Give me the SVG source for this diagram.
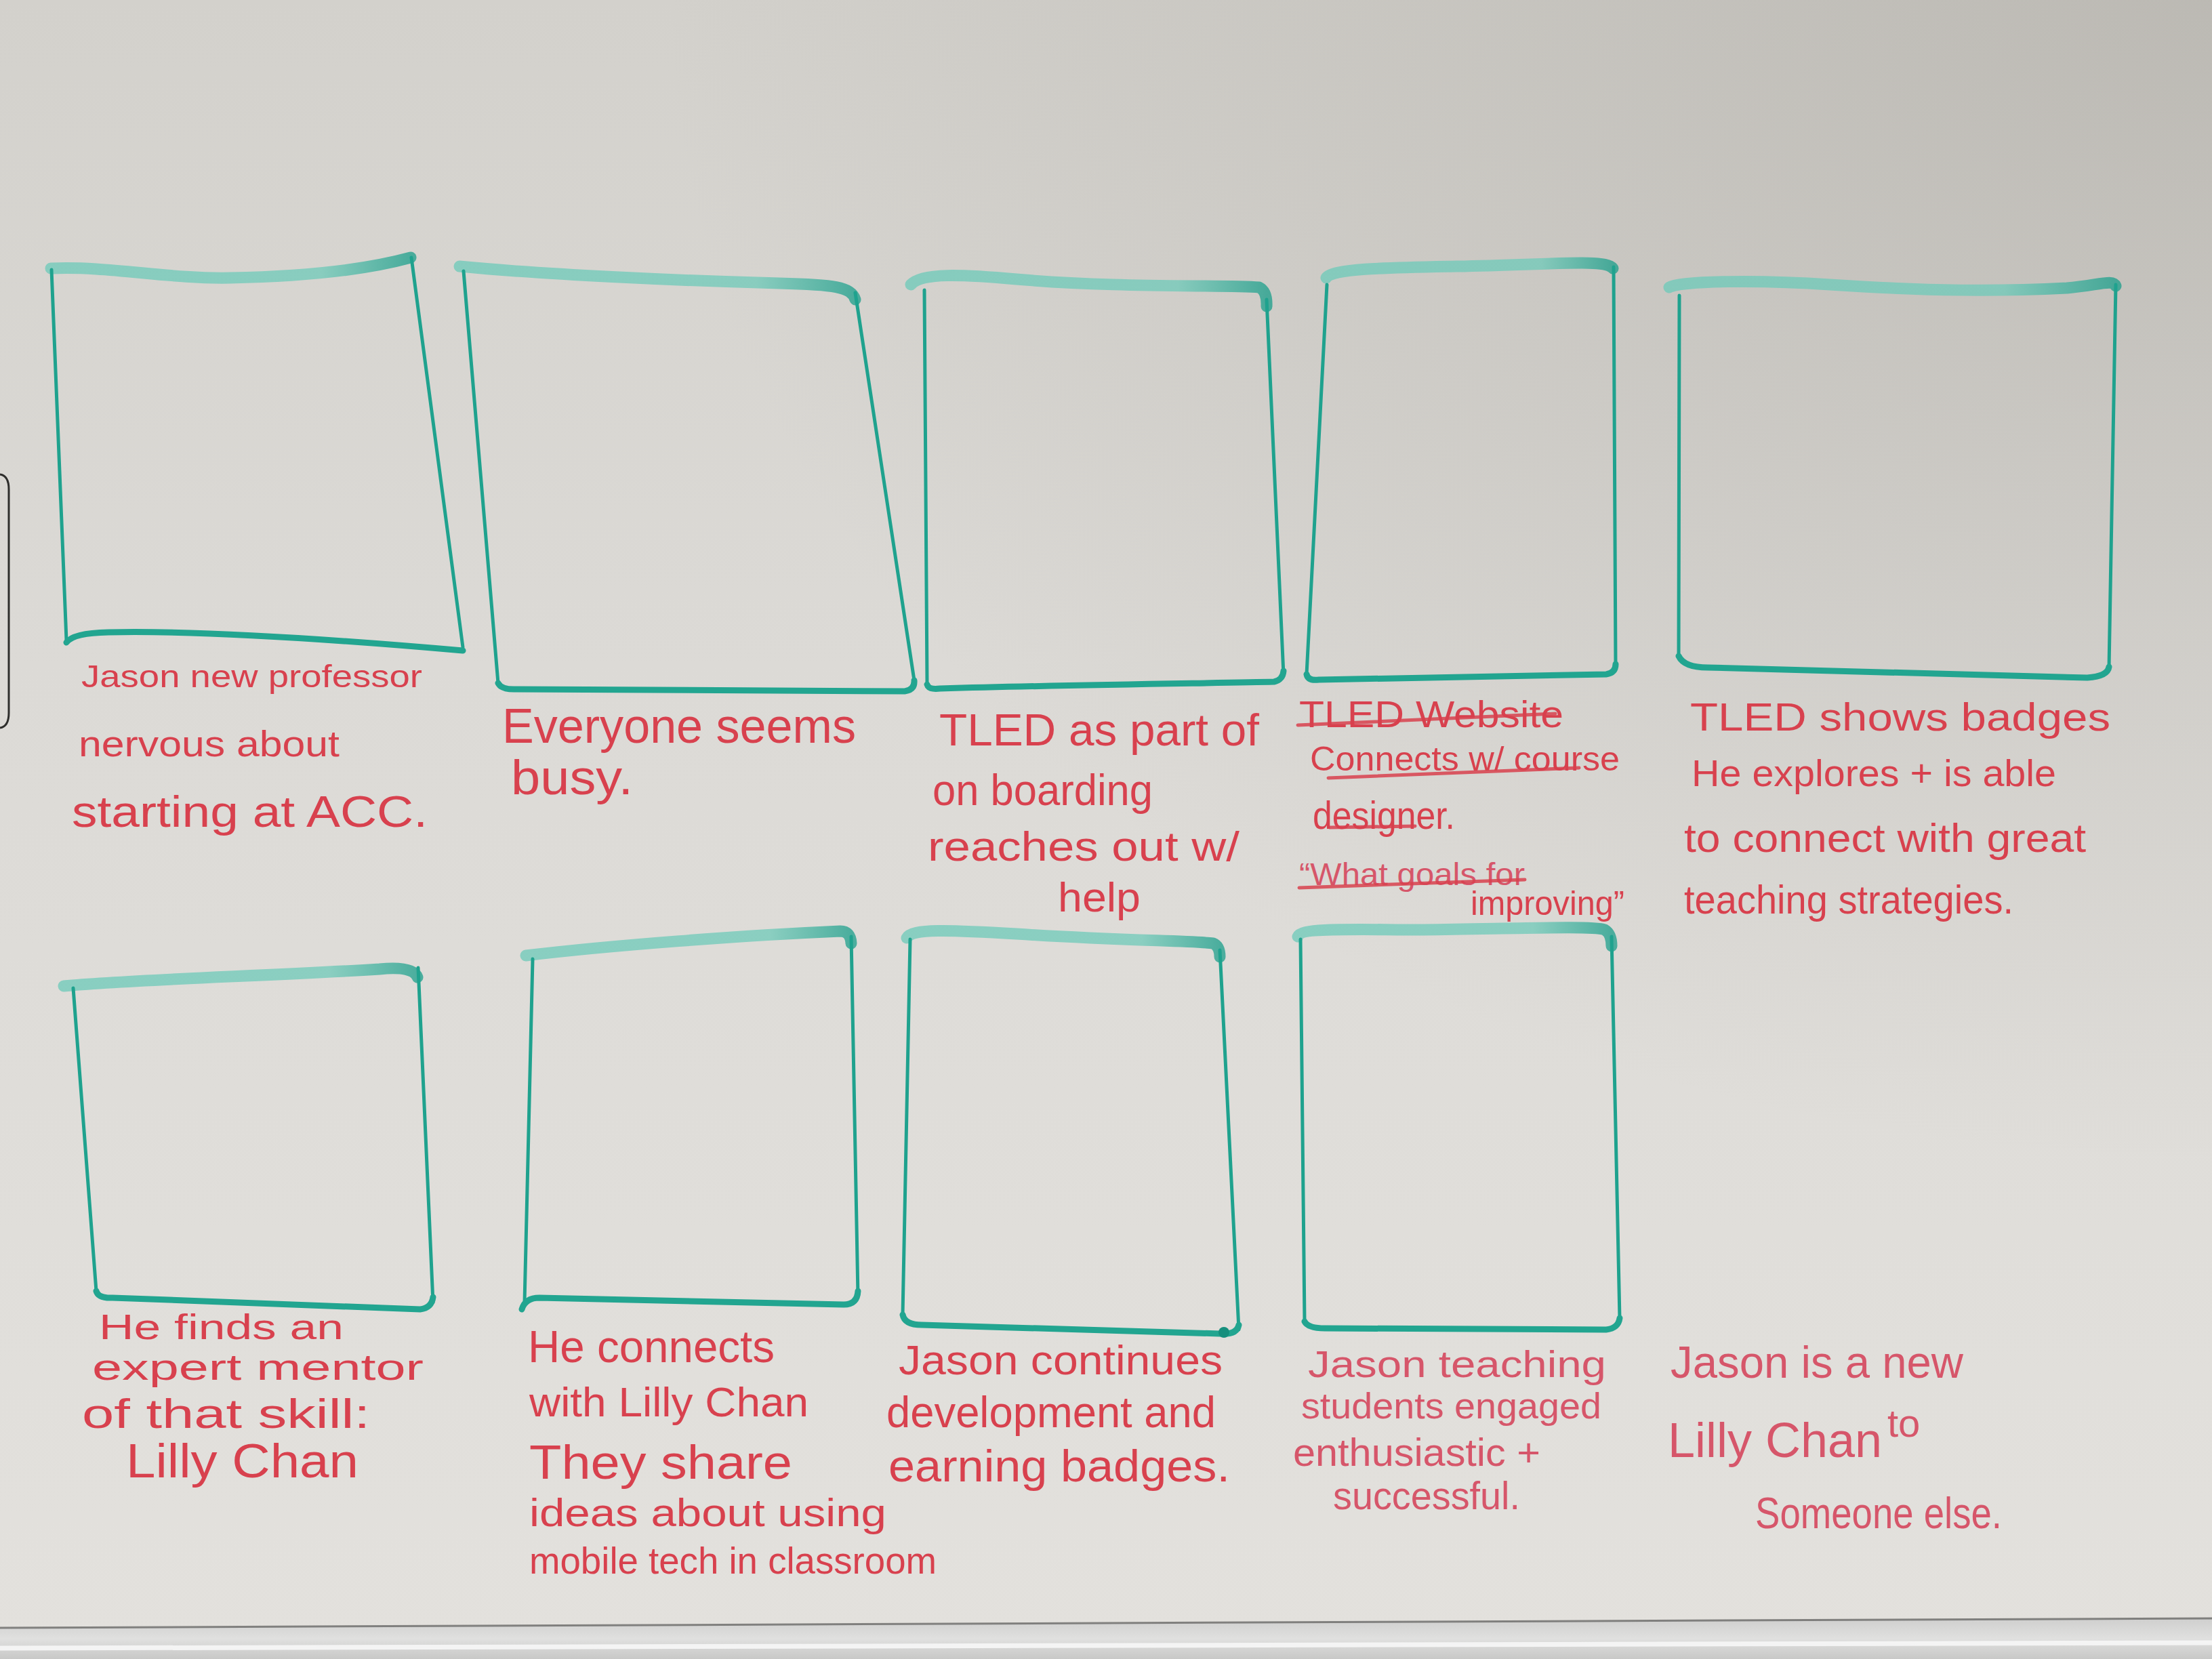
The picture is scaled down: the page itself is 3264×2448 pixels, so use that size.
<svg xmlns="http://www.w3.org/2000/svg" width="3264" height="2448" viewBox="0 0 3264 2448">
  <defs>
    <linearGradient id="board" x1="0" y1="0" x2="0" y2="1">
      <stop offset="0" stop-color="#d3d1cc"/>
      <stop offset="0.4" stop-color="#dcdad6"/>
      <stop offset="1" stop-color="#e3e1dd"/>
    </linearGradient>
    <radialGradient id="shade" cx="1" cy="0" r="0.7">
      <stop offset="0" stop-color="#99968f" stop-opacity="0.4"/>
      <stop offset="1" stop-color="#99968f" stop-opacity="0"/>
    </radialGradient>
    <linearGradient id="topInk" x1="0" y1="0" x2="1" y2="0">
      <stop offset="0" stop-color="#6ccab9"/>
      <stop offset="0.75" stop-color="#6fcab9"/>
      <stop offset="1" stop-color="#1a9e8a"/>
    </linearGradient>
    <linearGradient id="tray" x1="0" y1="0" x2="0" y2="1">
      <stop offset="0" stop-color="#cfcfce"/>
      <stop offset="0.5" stop-color="#e0e0df"/>
      <stop offset="1" stop-color="#c8c8c7"/>
    </linearGradient>
  </defs>
  <style>
    .top { fill: none; stroke: url(#topInk); stroke-width: 17; stroke-opacity: 0.75; stroke-linecap: round; stroke-linejoin: round; }
    .side { fill: none; stroke: #1fa28e; stroke-width: 5; stroke-linecap: round; }
    .bottom { fill: none; stroke: #22a590; stroke-width: 9; stroke-linecap: round; stroke-linejoin: round; }
    .ink { font-family: "Liberation Sans", "DejaVu Sans", sans-serif; fill: #d8414e; }
    .pale { fill: #d6566a; }
    .mark { fill: none; stroke: #d8414e; stroke-width: 5; stroke-linecap: round; stroke-opacity: 0.85; }
  </style>

  <!-- whiteboard surface -->
  <rect width="3264" height="2448" fill="url(#board)"/>
  <rect width="3264" height="2448" fill="url(#shade)"/>

  <!-- edge of a sign clipped on the left -->
  <path d="M 0 700 Q 13 702 13 722 L 13 1052 Q 13 1072 0 1074" fill="none" stroke="#2e2e2c" stroke-width="3"/>

  <!-- row 1 -->
  <g id="frame-1">
    <path class="top" d="M 75 396 C 160 392 250 412 340 410 C 450 408 540 398 606 380"/>
    <path class="side" d="M 76 398 L 98 945"/>
    <path class="side" d="M 607 380 L 683 955"/>
    <path class="bottom" d="M 98 948 Q 108 934 160 933 C 300 930 500 944 683 960"/>
    <text class="ink" x="120" y="1014" font-size="46" textLength="503" lengthAdjust="spacingAndGlyphs">Jason new professor</text>
    <text class="ink" x="116" y="1116" font-size="54" textLength="385" lengthAdjust="spacingAndGlyphs">nervous about</text>
    <text class="ink" x="106" y="1220" font-size="64" textLength="525" lengthAdjust="spacingAndGlyphs">starting at ACC.</text>
  </g>

  <g id="frame-2">
    <path class="top" d="M 678 393 C 800 405 1000 414 1150 418 C 1230 420 1256 423 1262 442"/>
    <path class="side" d="M 684 400 L 735 1008"/>
    <path class="side" d="M 1262 432 L 1349 1004"/>
    <path class="bottom" d="M 735 1008 Q 740 1018 762 1017 L 1335 1020 Q 1350 1018 1349 1004"/>
    <text class="ink" x="741" y="1096" font-size="72" textLength="522" lengthAdjust="spacingAndGlyphs">Everyone seems</text>
    <text class="ink" x="754" y="1172" font-size="72" textLength="180" lengthAdjust="spacingAndGlyphs">busy.</text>
  </g>

  <g id="frame-3">
    <path class="top" d="M 1344 420 C 1360 402 1420 405 1500 412 C 1650 425 1800 420 1858 424 Q 1870 430 1869 452"/>
    <path class="side" d="M 1364 428 L 1368 1008"/>
    <path class="side" d="M 1869 442 L 1894 996"/>
    <path class="bottom" d="M 1368 1010 Q 1370 1018 1387 1016 C 1600 1010 1800 1008 1880 1006 Q 1893 1003 1894 990"/>
    <text class="ink" x="1386" y="1100" font-size="66" textLength="472" lengthAdjust="spacingAndGlyphs">TLED as part of</text>
    <text class="ink" x="1376" y="1188" font-size="64" textLength="325" lengthAdjust="spacingAndGlyphs">on boarding</text>
    <text class="ink" x="1369" y="1270" font-size="62" textLength="460" lengthAdjust="spacingAndGlyphs">reaches out w/</text>
    <text class="ink" x="1561" y="1345" font-size="62" textLength="122" lengthAdjust="spacingAndGlyphs">help</text>
  </g>

  <g id="frame-4">
    <path class="top" d="M 1957 410 C 1965 396 2050 395 2150 393 C 2300 390 2368 382 2380 396"/>
    <path class="side" d="M 1958 420 L 1928 995"/>
    <path class="side" d="M 2381 394 L 2384 984"/>
    <path class="bottom" d="M 1928 995 Q 1930 1005 1946 1003 L 2370 995 Q 2384 993 2384 980"/>
    <text class="ink" x="1917" y="1073" font-size="56" textLength="390" lengthAdjust="spacingAndGlyphs">TLED Website</text>
    <path class="mark" d="M 1915 1070 L 2295 1053"/>
    <text class="ink" x="1933" y="1137" font-size="50" textLength="457" lengthAdjust="spacingAndGlyphs">Connects w/ course</text>
    <path class="mark" d="M 1960 1148 L 2330 1133"/>
    <text class="ink" x="1937" y="1223" font-size="58" textLength="210" lengthAdjust="spacingAndGlyphs">designer.</text>
    <path class="mark" d="M 1962 1221 L 2088 1219"/>
    <text class="ink pale" x="1917" y="1306" font-size="46" textLength="333" lengthAdjust="spacingAndGlyphs">“What goals for</text>
    <path class="mark" d="M 1917 1310 L 2250 1298"/>
    <text class="ink" x="2170" y="1350" font-size="50" textLength="227" lengthAdjust="spacingAndGlyphs">improving”</text>
  </g>

  <g id="frame-5">
    <path class="top" d="M 2463 424 C 2480 414 2600 413 2700 420 C 2850 430 2950 430 3050 425 C 3100 420 3118 412 3122 422"/>
    <path class="side" d="M 2478 436 L 2477 968"/>
    <path class="side" d="M 3122 420 L 3112 986"/>
    <path class="bottom" d="M 2477 968 Q 2485 985 2520 985 L 3080 1000 Q 3110 998 3112 984"/>
    <text class="ink" x="2494" y="1078" font-size="58" textLength="620" lengthAdjust="spacingAndGlyphs">TLED shows badges</text>
    <text class="ink" x="2496" y="1160" font-size="56" textLength="538" lengthAdjust="spacingAndGlyphs">He explores + is able</text>
    <text class="ink" x="2485" y="1257" font-size="60" textLength="593" lengthAdjust="spacingAndGlyphs">to connect with great</text>
    <text class="ink" x="2485" y="1348" font-size="60" textLength="486" lengthAdjust="spacingAndGlyphs">teaching strategies.</text>
  </g>

  <!-- row 2 -->
  <g id="frame-6">
    <path class="top" d="M 94 1455 C 200 1445 400 1440 560 1430 Q 610 1425 616 1442"/>
    <path class="side" d="M 108 1458 L 142 1905"/>
    <path class="side" d="M 617 1428 L 639 1922"/>
    <path class="bottom" d="M 142 1905 Q 145 1916 166 1915 L 620 1932 Q 637 1930 639 1914"/>
    <text class="ink" x="146" y="1976" font-size="52" textLength="361" lengthAdjust="spacingAndGlyphs">He finds an</text>
    <text class="ink" x="136" y="2036" font-size="54" textLength="489" lengthAdjust="spacingAndGlyphs">expert mentor</text>
    <text class="ink" x="121" y="2107" font-size="62" textLength="425" lengthAdjust="spacingAndGlyphs">of that skill:</text>
    <text class="ink" x="186" y="2180" font-size="70" textLength="343" lengthAdjust="spacingAndGlyphs">Lilly Chan</text>
  </g>

  <g id="frame-7">
    <path class="top" d="M 776 1410 C 900 1395 1100 1380 1240 1374 Q 1255 1374 1256 1392"/>
    <path class="side" d="M 786 1415 L 774 1922"/>
    <path class="side" d="M 1256 1382 L 1266 1912"/>
    <path class="bottom" d="M 770 1932 Q 775 1915 796 1915 L 1245 1925 Q 1265 1925 1266 1905"/>
    <text class="ink" x="779" y="2010" font-size="66" textLength="364" lengthAdjust="spacingAndGlyphs">He connects</text>
    <text class="ink" x="781" y="2090" font-size="62" textLength="412" lengthAdjust="spacingAndGlyphs">with Lilly Chan</text>
    <text class="ink" x="781" y="2182" font-size="70" textLength="388" lengthAdjust="spacingAndGlyphs">They share</text>
    <text class="ink" x="781" y="2252" font-size="58" textLength="527" lengthAdjust="spacingAndGlyphs">ideas about using</text>
    <text class="ink" x="781" y="2322" font-size="56" textLength="601" lengthAdjust="spacingAndGlyphs">mobile tech in classroom</text>
  </g>

  <g id="frame-8">
    <path class="top" d="M 1338 1384 C 1345 1370 1400 1372 1500 1378 C 1650 1388 1760 1388 1790 1392 Q 1800 1396 1800 1412"/>
    <path class="side" d="M 1343 1386 L 1332 1940"/>
    <path class="side" d="M 1800 1402 L 1828 1962"/>
    <path class="bottom" d="M 1332 1940 Q 1335 1955 1360 1955 L 1800 1968 Q 1825 1970 1828 1955"/>
    <circle cx="1806" cy="1966" r="8" fill="#168f7d"/>
    <text class="ink" x="1326" y="2028" font-size="62" textLength="478" lengthAdjust="spacingAndGlyphs">Jason continues</text>
    <text class="ink" x="1308" y="2106" font-size="64" textLength="486" lengthAdjust="spacingAndGlyphs">development and</text>
    <text class="ink" x="1311" y="2186" font-size="66" textLength="504" lengthAdjust="spacingAndGlyphs">earning badges.</text>
  </g>

  <g id="frame-9">
    <path class="top" d="M 1915 1382 C 1920 1368 2000 1372 2100 1372 C 2250 1370 2350 1366 2368 1372 Q 2378 1378 2378 1396"/>
    <path class="side" d="M 1919 1386 L 1925 1950"/>
    <path class="side" d="M 2378 1382 L 2390 1946"/>
    <path class="bottom" d="M 1925 1950 Q 1930 1960 1955 1960 L 2370 1962 Q 2388 1960 2390 1945"/>
    <text class="ink pale" x="1930" y="2032" font-size="56" textLength="440" lengthAdjust="spacingAndGlyphs">Jason teaching</text>
    <text class="ink pale" x="1920" y="2093" font-size="54" textLength="443" lengthAdjust="spacingAndGlyphs">students engaged</text>
    <text class="ink pale" x="1908" y="2163" font-size="58" textLength="365" lengthAdjust="spacingAndGlyphs">enthusiastic +</text>
    <text class="ink pale" x="1967" y="2227" font-size="58" textLength="276" lengthAdjust="spacingAndGlyphs">successful.</text>
  </g>

  <!-- closing caption without a frame -->
  <g id="closing-note">
    <text class="ink pale" x="2465" y="2033" font-size="66" textLength="432" lengthAdjust="spacingAndGlyphs">Jason is a new</text>
    <text class="ink pale" x="2461" y="2150" font-size="72">Lilly Chan<tspan x="2785" y="2120" font-size="58">to</tspan></text>
    <text class="ink pale" x="2590" y="2255" font-size="64" textLength="364" lengthAdjust="spacingAndGlyphs">Someone else.</text>
  </g>

  <!-- marker tray along the bottom -->
  <polygon points="0,2402 3264,2388 3264,2448 0,2448" fill="url(#tray)"/>
  <path d="M 0 2402 L 3264 2388" stroke="#5a5a58" stroke-width="3" stroke-opacity="0.7"/>
  <path d="M 0 2432 L 3264 2424" stroke="#f4f4f4" stroke-width="7"/>
</svg>
